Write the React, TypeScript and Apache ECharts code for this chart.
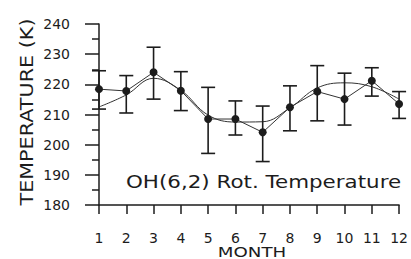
import React, { useEffect, useRef } from "react";
import * as echarts from "echarts";

const months = [1, 2, 3, 4, 5, 6, 7, 8, 9, 10, 11, 12];
const tempMeasured = [218.4, 217.8, 224.0, 217.9, 208.5, 208.5, 204.1, 212.4, 217.6, 215.1, 221.2, 213.5];
const errLow = [211.8, 210.5, 215.1, 211.3, 197.1, 203.2, 194.4, 204.6, 207.9, 206.5, 216.1, 208.7];
const errHigh = [224.5, 222.9, 232.3, 224.2, 219.0, 214.5, 212.8, 219.5, 226.2, 223.7, 225.5, 217.6];
const tempFit = [212.5, 216.5, 222.0, 218.0, 209.8, 207.5, 207.6, 212.2, 218.8, 220.5, 219.2, 215.1];
const yTicks = { min: 180, max: 240, interval: 10 };
const chartLabel = "OH(6,2) Rot. Temperature";
const xTitle = "MONTH";
const yTitle = "TEMPERATURE (K)";

const INK = "#1c1c1c";
const FONT = "DejaVu Sans";

export default function App() {
  const ref = useRef<HTMLDivElement>(null);
  useEffect(() => {
    if (!ref.current) return;
    const chart = echarts.init(ref.current, null, { renderer: "svg" });
    const option: any = {
      animation: false,
      backgroundColor: "#ffffff",
      grid: { left: 99, right: 8, top: 24, bottom: 54, containLabel: false },
      xAxis: {
        type: "value",
        min: 1,
        max: 12,
        interval: 1,
        axisLine: { show: true, lineStyle: { color: INK, width: 1.5 } },
        axisTick: { show: true, inside: false, length: 9, lineStyle: { color: INK, width: 1.5 } },
        axisLabel: { margin: 26, fontSize: 14, fontFamily: FONT, color: INK },
        splitLine: { show: false },
      },
      yAxis: {
        type: "value",
        min: yTicks.min,
        max: yTicks.max,
        interval: yTicks.interval,
        axisLine: { show: true, lineStyle: { color: INK, width: 1.5 } },
        axisTick: { show: true, inside: false, length: 14, lineStyle: { color: INK, width: 1.5 } },
        minorTick: { show: true, splitNumber: 2, length: 7, lineStyle: { color: INK, width: 1.5 } },
        axisLabel: { margin: 29, fontSize: 14, fontFamily: FONT, color: INK },
        splitLine: { show: false },
        minorSplitLine: { show: false },
      },
      series: [
        {
          type: "line",
          data: months.map((m, i) => [m, tempFit[i]]),
          smooth: 0.4,
          showSymbol: false,
          symbol: "none",
          lineStyle: { color: "#333", width: 1 },
          z: 2,
        },
        {
          type: "line",
          data: months.map((m, i) => [m, tempMeasured[i]]),
          symbol: "circle",
          symbolSize: 8,
          itemStyle: { color: INK },
          lineStyle: { color: "#333", width: 1 },
          z: 4,
        },
        {
          type: "custom",
          data: months.map((m, i) => [m, errLow[i], errHigh[i]]),
          renderItem: (params: any, api: any) => {
            const x = api.value(0);
            const lo = api.coord([x, api.value(1)]);
            const hi = api.coord([x, api.value(2)]);
            const hw = 7;
            const st = { stroke: INK, lineWidth: 1.6 };
            return {
              type: "group",
              children: [
                { type: "line", shape: { x1: lo[0], y1: lo[1], x2: hi[0], y2: hi[1] }, style: st },
                { type: "line", shape: { x1: hi[0] - hw, y1: hi[1], x2: hi[0] + hw, y2: hi[1] }, style: st },
                { type: "line", shape: { x1: lo[0] - hw, y1: lo[1], x2: lo[0] + hw, y2: lo[1] }, style: st },
              ],
            };
          },
          z: 3,
        },
      ],
      graphic: [
        {
          type: "text",
          x: 126,
          y: 182,
          scaleX: 1.26,
          style: {
            text: chartLabel,
            font: `17px "${FONT}"`,
            fill: INK,
            textAlign: "left",
            textVerticalAlign: "middle",
          },
        },
        {
          type: "text",
          x: 26.5,
          y: 112,
          rotation: Math.PI / 2,
          scaleX: 1.22,
          style: {
            text: yTitle,
            font: `17px "${FONT}"`,
            fill: INK,
            textAlign: "center",
            textVerticalAlign: "middle",
          },
        },
        {
          type: "text",
          x: 252,
          y: 245,
          scaleX: 1.3,
          style: {
            text: xTitle,
            font: `14px "${FONT}"`,
            fill: INK,
            textAlign: "center",
            textVerticalAlign: "top",
          },
        },
      ],
    };
    chart.setOption(option);
    return () => chart.dispose();
  }, []);
  return (
    <div
      ref={ref}
      style={{ position: "fixed", left: 0, top: 0, width: 411, height: 259 }}
    />
  );
}
